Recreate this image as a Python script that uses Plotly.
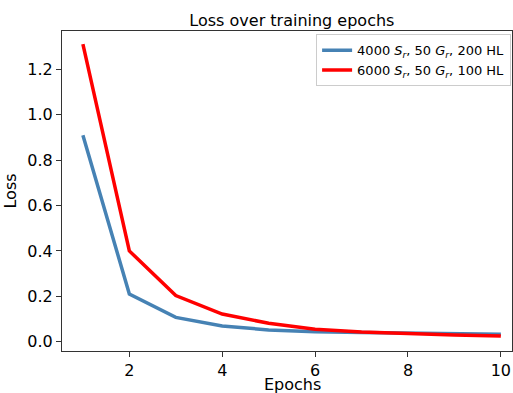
import plotly.graph_objects as go

epochs = [1, 2, 3, 4, 5, 6, 7, 8, 9, 10]
loss_4000 = [0.91, 0.21, 0.107, 0.069, 0.052, 0.044, 0.040, 0.037, 0.034, 0.033]
loss_6000 = [1.311, 0.40, 0.203, 0.122, 0.081, 0.055, 0.043, 0.035, 0.029, 0.025]
names = ["4000 <i>S<sub>r</sub></i>, 50 <i>G<sub>r</sub></i>, 200 HL",
         "6000 <i>S<sub>r</sub></i>, 50 <i>G<sub>r</sub></i>, 100 HL"]
x_title = "Epochs"

fig = go.Figure()
fig.add_trace(go.Scatter(x=epochs, y=loss_4000, mode="lines", name=names[0],
                         line=dict(color="#4682b4", width=3.5)))
fig.add_trace(go.Scatter(x=epochs, y=loss_6000, mode="lines", name=names[1],
                         line=dict(color="#ff0000", width=3.5)))

axis_common = dict(showgrid=False, zeroline=False, showline=True, mirror=True,
                   linecolor="#333333", linewidth=1, ticks="outside", ticklen=5,
                   tickcolor="#333333", tickfont=dict(size=16, color="black"))
fig.update_layout(
    width=513, height=393,
    margin=dict(l=62, r=1, t=31, b=42),
    paper_bgcolor="white", plot_bgcolor="white",
    font=dict(family="DejaVu Sans", color="black"),
    title=dict(text="Loss over training epochs", x=0.569, xanchor="center",
               y=0.949, yanchor="middle", font=dict(size=16)),
    legend=dict(x=0.998, y=0.99, xanchor="right", yanchor="top",
                bordercolor="#cccccc", borderwidth=1, bgcolor="white",
                font=dict(size=13), tracegroupgap=0),
    xaxis=dict(range=[0.55, 10.24], tickvals=[2, 4, 6, 8, 10], automargin=False,
               **axis_common),
    yaxis=dict(range=[-0.041, 1.369], tickvals=[0, 0.2, 0.4, 0.6, 0.8, 1.0, 1.2],
               tickformat=".1f",
               title=dict(text="Loss", font=dict(size=16), standoff=6), **axis_common),
)
fig.add_annotation(text=x_title, xref="paper", yref="paper", x=0.513, y=-0.105,
                   xanchor="center", yanchor="middle", showarrow=False,
                   font=dict(size=16, color="black"))
fig.write_html("out.html", config={"displayModeBar": False},
               post_script="document.body.style.margin='0';document.body.style.overflow='hidden';")
